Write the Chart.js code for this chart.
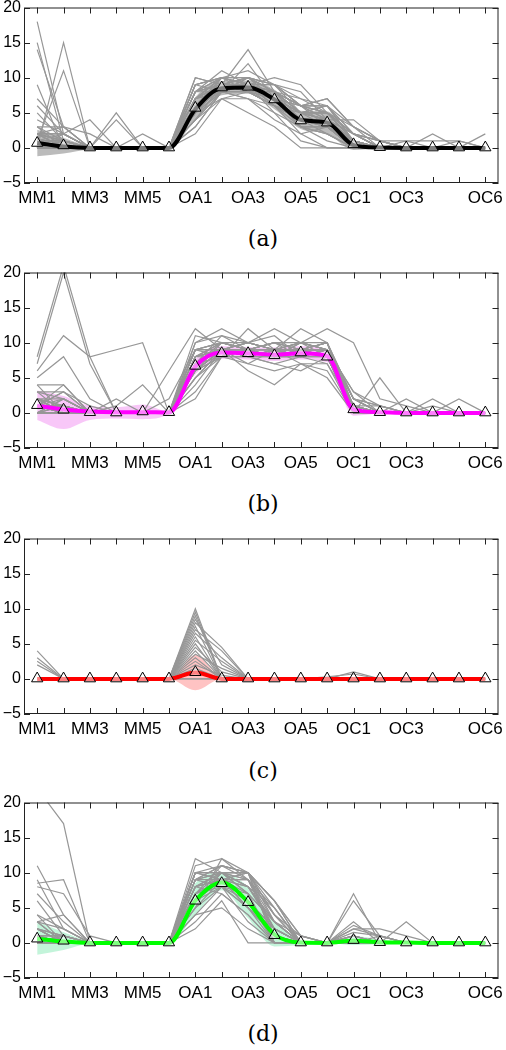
<!DOCTYPE html>
<html>
<head>
<meta charset="utf-8">
<script src="https://cdn.jsdelivr.net/npm/chart.js@4.4.1/dist/chart.umd.min.js"></script>
<style>
  body { margin: 0; background: #fff; }
  .panel { position: absolute; left: 0; }
  .cap { position: absolute; left: 0; width: 526px; text-align: center; font: 22px 'DejaVu Serif'; line-height: 26px; color: #000; }
</style>
</head>
<body>
<div class="panel" style="top:0"><canvas id="chart-a" width="506" height="213"></canvas></div>
<div class="cap" style="top:226px">(a)</div>
<div class="panel" style="top:265px"><canvas id="chart-b" width="506" height="213"></canvas></div>
<div class="cap" style="top:491px">(b)</div>
<div class="panel" style="top:531px"><canvas id="chart-c" width="506" height="213"></canvas></div>
<div class="cap" style="top:758px">(c)</div>
<div class="panel" style="top:795px"><canvas id="chart-d" width="506" height="213"></canvas></div>
<div class="cap" style="top:1021px">(d)</div>

<script>
// categories and tick labels
const categories = ['MM1', 'MM2', 'MM3', 'MM4', 'MM5', 'MM6',
                    'OA1', 'OA2', 'OA3', 'OA4', 'OA5', 'OA6',
                    'OC1', 'OC2', 'OC3', 'OC4', 'OC5', 'OC6'];
const shownLabels = ['MM1', 'MM3', 'MM5', 'OA1', 'OA3', 'OA5', 'OC1', 'OC3', 'OC6'];
const yTicks = [-5, 0, 5, 10, 15, 20];

// (a)
const meanA = [0.7, 0.2, 0, 0, 0, 0, 5.5, 8.5, 8.6, 6.9, 4.0, 3.6, 0.4, 0.05, 0, 0, 0, 0];
const markA = [0.7, 0.35, 0.05, 0.05, 0.05, 0.05, 5.7, 8.6, 8.7, 6.9, 3.9, 3.6, 0.5, 0.1, 0.05, 0.05, 0.05, 0.05];
const lowA  = [-1.2, -0.8, -0.2, 0, 0, 0, 4.0, 7.5, 7.7, 5.5, 2.7, 2.0, -0.3, -0.1, 0, 0, 0, 0];
const highA = [2.6, 1.4, 0.3, 0.2, 0.1, 0, 7.2, 9.5, 9.6, 8.3, 5.3, 5.2, 1.1, 0.3, 0.1, 0.1, 0.1, 0.1];
const tracesA = [
    [18, 2, 0, 0, 0, 0, 6, 9, 9, 7, 4, 4, 1, 0, 0, 0, 0, 0],
    [15, 1, 0, 0, 0, 0, 8, 10, 9, 8, 5, 3, 0, 0, 0, 0, 0, 0],
    [14, 3, 0, 0, 0, 0, 5, 8, 10, 7, 3, 2, 0, 0, 0, 0, 0, 0],
    [9, 0, 0, 0, 0, 0, 7, 9, 8, 6, 4, 3, 0, 0, 0, 0, 0, 0],
    [0, 15, 0, 0, 0, 0, 4, 8, 9, 7, 5, 4, 1, 0, 0, 0, 0, 0],
    [1, 11, 0, 0, 0, 0, 6, 9, 14, 8, 6, 5, 2, 0, 0, 0, 0, 0],
    [7, 3, 0, 0, 0, 0, 9, 10, 8, 6, 4, 4, 1, 0, 0, 0, 0, 0],
    [6, 2, 4, 0, 0, 0, 8, 11, 9, 7, 5, 4, 0, 0, 0, 0, 0, 0],
    [5, 1, 0, 5, 0, 0, 10, 9, 10, 9, 6, 7, 3, 1, 0, 0, 0, 0],
    [4, 2, 0, 4, 0, 0, 7, 8, 12, 7, 4, 3, 1, 0, 0, 0, 0, 0],
    [3, 3, 2, 0, 2, 0, 5, 7, 5, 3, 0, 0, 0, 0, 0, 0, 0, 0],
    [2, 2, 0, 0, 0, 0, 3, 8, 9, 7, 5, 5, 2, 1, 1, 1, 1, 0],
    [1, 0, 0, 0, 0, 0, 2, 7, 7, 6, 4, 4, 4, 1, 0, 0, 0, 0],
    [3, 0, 0, 0, 0, 0, 6, 9, 9, 10, 9, 5, 3, 1, 0, 0, 0, 0],
    [2, 1, 0, 0, 0, 0, 4, 9, 10, 8, 6, 7, 3, 0, 0, 0, 0, 0],
    [1, 1, 0, 0, 0, 0, 5, 8, 8, 6, 3, 3, 1, 0, 0, 0, 0, 0],
    [0, 2, 0, 0, 0, 0, 6, 9, 9, 5, 1, 0, 0, 0, 0, 0, 0, 0],
    [2, 0, 0, 0, 0, 0, 7, 10, 9, 7, 4, 2, 0, 0, 0, 0, 0, 0],
    [1, 0, 0, 0, 0, 0, 8, 10, 10, 9, 7, 6, 2, 0, 0, 0, 0, 0],
    [0, 0, 0, 0, 0, 0, 4, 7, 8, 8, 5, 4, 1, 0, 0, 2, 0, 0],
    [1, 1, 0, 0, 0, 0, 9, 8, 7, 4, 2, 3, 0, 0, 0, 0, 0, 2],
    [0, 0, 0, 0, 0, 0, 5, 9, 9, 7, 3, 1, 0, 0, 0, 0, 0, 0],
    [2, 1, 0, 0, 0, 0, 6, 8, 9, 8, 6, 4, 1, 0, 1, 0, 1, 0],
    [1, 0, 0, 0, 0, 0, 7, 9, 10, 9, 5, 5, 1, 0, 0, 0, 0, 0],
    [0, 1, 0, 0, 0, 0, 3, 8, 8, 6, 4, 3, 0, 0, 0, 0, 0, 0],
    [1, 0, 0, 0, 0, 0, 6, 9, 9, 6, 2, 0, 0, 0, 0, 0, 0, 0],
    [2, 3, 0, 0, 0, 0, 8, 9, 9, 7, 5, 6, 2, 1, 0, 0, 0, 0],
    [0, 0, 0, 0, 0, 0, 5, 8, 7, 5, 3, 2, 0, 0, 0, 0, 0, 0],
    [1, 0, 0, 0, 0, 0, 6, 9, 8, 7, 5, 4, 2, 0, 0, 0, 0, 0],
    [0, 0, 0, 0, 0, 0, 7, 8, 9, 7, 4, 3, 0, 0, 0, 0, 0, 0],
    [1, 0, 0, 0, 0, 0, 9, 10, 9, 8, 6, 5, 1, 0, 0, 0, 0, 0],
    [0, 0, 0, 0, 0, 0, 10, 9, 8, 7, 5, 5, 2, 1, 0, 0, 0, 0],
    [2, 1, 0, 0, 0, 0, 8, 8, 8, 8, 6, 6, 1, 0, 0, 0, 0, 0],
    [1, 2, 0, 0, 0, 0, 7, 9, 9, 9, 8, 4, 0, 0, 0, 0, 0, 0],
    [0, 0, 0, 0, 0, 0, 6, 10, 11, 9, 6, 3, 1, 0, 0, 0, 0, 0],
    [3, 1, 0, 0, 0, 0, 5, 9, 9, 8, 5, 5, 2, 0, 0, 0, 0, 0],
    [1, 0, 0, 0, 0, 0, 8, 9, 9, 7, 6, 6, 3, 1, 0, 0, 0, 0],
    [0, 0, 0, 0, 0, 0, 6, 8, 10, 8, 4, 4, 0, 0, 0, 0, 0, 0],
    [2, 0, 0, 0, 0, 0, 9, 10, 10, 8, 5, 4, 1, 0, 0, 0, 0, 0],
    [1, 1, 0, 0, 0, 0, 4, 8, 9, 7, 3, 3, 0, 0, 0, 0, 0, 0],
    [0, 0, 0, 0, 0, 0, 7, 9, 8, 6, 5, 6, 1, 0, 0, 0, 0, 0],
    [1, 0, 0, 0, 0, 0, 5, 10, 9, 7, 6, 5, 2, 0, 0, 0, 0, 0],
    [2, 2, 0, 0, 0, 0, 8, 9, 9, 9, 6, 4, 0, 0, 0, 0, 0, 0],
    [0, 1, 0, 0, 0, 0, 6, 9, 10, 8, 7, 5, 1, 0, 0, 0, 0, 0],
    [1, 0, 0, 0, 0, 0, 7, 10, 9, 6, 4, 4, 2, 0, 0, 0, 0, 0]
];

// (b)
const meanB = [1.0, 0.5, 0.2, 0.1, 0.1, 0.05, 6.6, 8.6, 8.5, 8.3, 8.5, 8.1, 0.5, 0.1, 0, 0, 0, 0];
const markB = [1.1, 0.45, 0.1, 0.05, 0.2, 0.1, 6.7, 8.5, 8.5, 8.2, 8.6, 8.0, 0.5, 0.1, 0.05, 0.05, 0.05, 0.05];
const lowB  = [-1.0, -2.3, -1.0, -0.8, -0.9, -0.1, 5.5, 7.7, 7.6, 7.4, 7.6, 7.2, -0.4, -0.1, 0, 0, 0, 0];
const highB = [3.2, 2.4, 1.0, 0.8, 1.2, 0.2, 7.6, 9.5, 9.4, 9.3, 9.5, 9.0, 1.3, 0.3, 0.1, 0.1, 0.1, 0.1];
const tracesB = [
    [8, 21, 8, 0, 0, 0, 7, 9, 9, 8, 9, 8, 0, 0, 0, 0, 0, 0],
    [7, 20, 7, 0, 0, 0, 6, 9, 8, 9, 8, 9, 1, 0, 0, 0, 0, 0],
    [6, 11, 8, 9, 10, 0, 9, 10, 9, 8, 9, 9, 2, 0, 0, 0, 0, 0],
    [5, 8, 2, 0, 0, 0, 8, 9, 10, 9, 10, 9, 3, 0, 0, 0, 0, 0],
    [4, 4, 0, 0, 0, 6, 12, 9, 8, 7, 8, 8, 0, 0, 0, 0, 0, 0],
    [3, 3, 0, 1, 4, 0, 11, 10, 9, 10, 9, 10, 0, 0, 0, 0, 0, 0],
    [2, 1, 0, 2, 0, 0, 10, 12, 10, 12, 10, 12, 10, 2, 1, 0, 0, 0],
    [1, 4, 0, 0, 0, 2, 9, 8, 12, 9, 12, 10, 2, 1, 0, 0, 0, 0],
    [1, 0, 0, 0, 0, 0, 5, 9, 6, 4, 7, 5, 0, 5, 0, 0, 0, 0],
    [0, 2, 0, 0, 0, 0, 2, 8, 9, 8, 9, 8, 1, 0, 2, 0, 0, 0],
    [1, 1, 0, 0, 0, 0, 7, 11, 10, 11, 8, 9, 0, 0, 0, 0, 2, 0],
    [2, 2, 0, 0, 0, 0, 6, 9, 9, 8, 9, 9, 1, 1, 0, 0, 0, 0],
    [3, 0, 0, 0, 0, 0, 7, 8, 8, 7, 6, 8, 0, 0, 0, 2, 0, 0],
    [0, 0, 0, 0, 0, 0, 8, 10, 9, 9, 9, 10, 1, 0, 0, 0, 0, 0],
    [1, 3, 1, 0, 0, 0, 6, 9, 9, 9, 10, 9, 0, 0, 0, 0, 0, 0],
    [2, 0, 0, 0, 0, 0, 5, 8, 7, 6, 7, 6, 0, 0, 0, 0, 0, 0],
    [0, 1, 0, 0, 0, 0, 7, 9, 10, 9, 9, 9, 2, 0, 0, 0, 0, 0],
    [1, 0, 0, 0, 0, 0, 9, 9, 9, 10, 10, 9, 3, 1, 0, 1, 0, 0],
    [0, 0, 0, 0, 0, 0, 6, 8, 8, 8, 8, 7, 0, 0, 0, 0, 0, 0],
    [2, 1, 0, 0, 0, 0, 8, 9, 9, 9, 9, 9, 1, 0, 0, 0, 0, 0],
    [1, 0, 0, 0, 0, 0, 4, 9, 8, 9, 8, 8, 0, 0, 0, 0, 0, 0],
    [0, 2, 0, 0, 0, 0, 7, 10, 9, 8, 9, 10, 0, 0, 0, 0, 0, 0],
    [1, 1, 0, 0, 0, 0, 8, 9, 10, 9, 9, 8, 1, 0, 0, 0, 0, 0],
    [0, 0, 0, 0, 0, 0, 9, 10, 9, 9, 10, 9, 0, 0, 0, 0, 0, 0],
    [3, 2, 0, 0, 0, 0, 6, 8, 9, 10, 8, 9, 2, 0, 0, 0, 0, 0],
    [1, 0, 0, 0, 0, 0, 7, 9, 8, 9, 9, 9, 0, 0, 0, 0, 0, 0],
    [0, 0, 0, 0, 0, 0, 3, 8, 9, 8, 10, 8, 0, 0, 0, 0, 0, 0],
    [2, 0, 0, 0, 0, 0, 10, 11, 9, 10, 9, 9, 1, 0, 0, 0, 0, 0],
    [1, 0, 0, 0, 0, 0, 8, 9, 9, 9, 9, 9, 0, 0, 0, 0, 0, 0],
    [0, 1, 0, 0, 0, 0, 7, 9, 9, 9, 9, 8, 1, 0, 0, 0, 0, 0],
    [2, 0, 0, 0, 0, 0, 9, 9, 10, 9, 10, 10, 2, 0, 0, 0, 0, 0],
    [1, 1, 0, 0, 0, 0, 6, 10, 9, 8, 8, 9, 0, 0, 0, 0, 0, 0],
    [0, 0, 0, 0, 0, 0, 8, 8, 9, 9, 9, 9, 1, 0, 0, 0, 0, 0],
    [1, 2, 0, 0, 0, 0, 9, 10, 9, 10, 9, 10, 0, 0, 0, 0, 0, 0],
    [0, 0, 0, 0, 0, 0, 5, 9, 8, 8, 9, 8, 0, 0, 0, 0, 0, 0],
    [2, 1, 0, 0, 0, 0, 7, 9, 9, 8, 10, 9, 1, 0, 0, 0, 0, 0],
    [1, 0, 0, 0, 0, 0, 8, 10, 10, 9, 9, 9, 0, 0, 0, 0, 0, 0],
    [0, 0, 0, 0, 0, 0, 6, 9, 7, 9, 7, 7, 1, 0, 0, 0, 0, 0],
    [4, 0, 0, 0, 0, 0, 7, 8, 9, 8, 8, 9, 2, 1, 0, 0, 0, 0],
    [1, 3, 0, 0, 0, 0, 9, 9, 8, 9, 9, 10, 1, 0, 0, 0, 0, 0]
];

// (c)
const meanC = [0, 0, 0, 0, 0, 0, 0.9, 0, 0, 0, 0, 0, 0, 0, 0, 0, 0, 0];
const markC = [0.05, 0.05, 0.05, 0.05, 0.05, 0.05, 0.95, 0.05, 0.05, 0.05, 0.05, 0.05, 0.05, 0.05, 0.05, 0.05, 0.05, 0.05];
const lowC  = [0, 0, 0, 0, 0, 0, -1.6, 0, 0, 0, 0, 0, 0, 0, 0, 0, 0, 0];
const highC = [0.2, 0, 0, 0, 0, 0, 3.4, 0.2, 0, 0, 0, 0, 0, 0, 0, 0, 0, 0];
const tracesC = [
    [4, 0, 0, 0, 0, 0, 10, 0, 0, 0, 0, 0, 0, 0, 0, 0, 0, 0],
    [3, 0, 0, 0, 0, 0, 9, 0, 0, 0, 0, 0, 0, 0, 0, 0, 0, 0],
    [2.5, 0, 0, 0, 0, 0, 8, 4.5, 0, 0, 0, 0, 0, 0, 0, 0, 0, 0],
    [2, 0, 0, 0, 0, 0, 7, 4, 0, 0, 0, 0, 0, 0, 0, 0, 0, 0],
    [0, 0, 0, 0, 0, 0, 9.5, 0, 0, 0, 0, 0, 0, 0, 0, 0, 0, 0],
    [0, 0, 0, 0, 0, 0, 8.5, 2, 0, 0, 0, 0, 0, 0, 0, 0, 0, 0],
    [0, 0, 0, 0, 0, 0, 7.5, 0, 0, 0, 0, 0, 0, 0, 0, 0, 0, 0],
    [0, 0, 0, 0, 0, 0, 6.5, 3, 0, 0, 0, 0, 0, 0, 0, 0, 0, 0],
    [0, 0, 0, 0, 0, 0, 6, 0, 0, 0, 0, 0, 0, 0, 0, 0, 0, 0],
    [0, 0, 0, 0, 0, 0, 5.5, 2.5, 0, 0, 0, 0, 0, 0, 0, 0, 0, 0],
    [0, 0, 0, 0, 0, 0, 5, 0, 0, 0, 0, 0, 0, 0, 0, 0, 0, 0],
    [0, 0, 0, 0, 0, 0, 4.5, 1, 0, 0, 0, 0, 0, 0, 0, 0, 0, 0],
    [0, 0, 0, 0, 0, 0, 4, 0, 0, 0, 0, 0, 0, 0, 0, 0, 0, 0],
    [0, 0, 0, 0, 0, 0, 3.5, 1.5, 0, 0, 0, 0, 0, 0, 0, 0, 0, 0],
    [0, 0, 0, 0, 0, 0, 3, 0, 0, 0, 0, 0, 0, 0, 0, 0, 0, 0],
    [0, 0, 0, 0, 0, 0, 2.5, 0, 0, 0, 0, 0, 0, 0, 0, 0, 0, 0],
    [0, 0, 0, 0, 0, 0, 2, 0.5, 0, 0, 0, 0, 0, 0, 0, 0, 0, 0],
    [0, 0, 0, 0, 0, 0, 1.5, 0, 0, 0, 0, 0, 0, 0, 0, 0, 0, 0],
    [0, 0, 0, 0, 0, 0, 0, 0, 0, 0, 0, 0, 1, 0, 0, 0, 0, 0],
    [0, 0, 0, 0, 0, 0, 0, 0, 0, 0, 0, 0.3, 0.7, 0, 0, 0, 0, 0]
];

// (d)
const meanD = [0.6, 0.2, 0, 0, 0, 0, 6.0, 8.6, 5.8, 1.2, 0.05, 0, 0.3, 0.1, 0.05, 0, 0, 0];
const markD = [0.6, 0.3, 0.05, 0.05, 0.05, 0.05, 6.0, 8.5, 5.8, 1.1, 0.05, 0.05, 0.4, 0.1, 0.05, 0.05, 0.05, 0.05];
const lowD  = [-1.7, -1.0, -0.1, 0, 0, 0, 4.0, 7.5, 3.5, -0.5, -0.3, 0, -0.3, -0.2, 0, 0, 0, 0];
const highD = [3.0, 1.5, 0.2, 0, 0, 0, 8.5, 10.0, 8.0, 3.0, 0.5, 0, 1.0, 0.5, 0.1, 0, 0, 0];
const tracesD = [
    [22, 17, 0, 0, 0, 0, 6, 9, 8, 3, 0, 0, 0, 0, 0, 0, 0, 0],
    [11, 4, 0, 0, 0, 0, 12, 10, 10, 6, 1, 0, 7, 0, 0, 0, 0, 0],
    [9, 2, 0, 0, 0, 0, 11, 12, 9, 5, 0, 0, 6, 1, 0, 0, 0, 0],
    [8.5, 9, 0, 0, 0, 0, 10, 11, 10, 4, 0, 0, 3, 0, 3, 0, 0, 0],
    [8, 7, 1, 0, 0, 0, 9, 11, 10, 3, 0, 0, 2.5, 1, 0, 0, 0, 0],
    [7, 3, 0, 0, 0, 0, 8, 10, 8, 2, 0, 0, 2, 2, 1, 0, 0, 0],
    [6, 1, 0, 0, 0, 0, 5, 12, 10, 1, 0, 0, 1.5, 1, 0, 0, 0, 0],
    [4, 0, 0, 0, 0, 0, 10, 10, 10, 0, 0, 0, 1, 0, 0, 0, 0, 0],
    [4, 2, 0, 0, 0, 0, 10, 10, 10, 6, 1, 0, 0.5, 0, 0, 0, 0, 0],
    [3, 4, 0, 0, 0, 0, 2, 6, 0, 0, 0, 0, 0, 0, 0, 0, 0, 0],
    [2, 1, 0, 0, 0, 0, 4, 5, 2, 0, 0, 0, 0, 1, 0, 0, 0, 0],
    [1, 0, 0, 0, 0, 0, 7, 9, 6, 1, 0, 0, 0, 0, 0, 0, 0, 0],
    [3, 0, 0, 0, 0, 0, 6, 8, 3, 0, 0, 0, 1, 0, 0, 0, 0, 0],
    [1, 1, 0, 0, 0, 0, 9, 8, 5, 2, 0, 0, 0, 0, 0, 0, 0, 0],
    [0, 0, 0, 0, 0, 0, 7, 9, 7, 0, 0, 0, 0, 0, 0, 0, 0, 0],
    [2, 0, 0, 0, 0, 0, 8, 7, 4, 0, 0, 0, 0, 0, 0, 0, 0, 0],
    [1, 0, 0, 0, 0, 0, 6, 9, 9, 3, 0, 0, 0, 0, 0, 0, 0, 0],
    [0, 1, 0, 0, 0, 0, 10, 9, 10, 4, 1, 0, 0, 0, 0, 0, 0, 0],
    [0, 0, 0, 0, 0, 0, 5, 9, 6, 2, 0, 0, 0, 0, 0, 0, 0, 0],
    [1, 0, 0, 0, 0, 0, 8, 10, 8, 3, 0, 0, 1, 0, 0, 0, 0, 0],
    [0, 0, 0, 0, 0, 0, 3, 7, 4, 0, 0, 0, 0, 0, 0, 0, 0, 0],
    [2, 1, 0, 0, 0, 0, 9, 9, 5, 1, 0, 0, 0, 0, 0, 0, 0, 0],
    [0, 0, 0, 0, 0, 0, 4, 8, 6, 2, 0, 0, 0, 0, 0, 0, 0, 0],
    [1, 0, 0, 0, 0, 0, 7, 11, 10, 5, 0, 0, 0, 0, 0, 0, 0, 0],
    [0, 0, 0, 0, 0, 0, 6, 10, 7, 0, 0, 0, 0, 0, 0, 0, 0, 0],
    [3, 0, 0, 0, 0, 0, 9, 10, 10, 6, 0, 0, 0, 0, 0, 0, 0, 0],
    [1, 0, 0, 0, 0, 0, 8, 9, 9, 4, 0, 0, 0, 0, 0, 0, 0, 0],
    [0, 0, 0, 0, 0, 0, 7, 10, 8, 2, 0, 0, 1, 0, 0, 0, 0, 0],
    [2, 0, 0, 0, 0, 0, 9, 10, 7, 3, 0, 0, 0, 0, 0, 0, 0, 0],
    [0, 1, 0, 0, 0, 0, 5, 8, 5, 1, 0, 0, 0, 0, 0, 0, 0, 0],
    [1, 0, 0, 0, 0, 0, 6, 10, 9, 2, 0, 0, 2, 1, 0, 0, 0, 0],
    [0, 0, 0, 0, 0, 0, 8, 9, 6, 0, 0, 0, 0, 0, 0, 0, 0, 0],
    [3, 2, 0, 0, 0, 0, 10, 9, 8, 5, 0, 0, 0, 0, 0, 0, 0, 0],
    [0, 0, 0, 0, 0, 0, 7, 8, 7, 3, 1, 0, 0, 0, 0, 0, 0, 0],
    [1, 1, 0, 0, 0, 0, 9, 11, 9, 4, 0, 0, 1, 0, 0, 0, 0, 0],
    [0, 0, 0, 0, 0, 0, 6, 9, 10, 6, 0, 0, 0, 0, 0, 0, 0, 0],
    [2, 0, 0, 0, 0, 0, 10, 10, 9, 1, 0, 0, 0, 0, 0, 0, 0, 0],
    [0, 0, 0, 0, 0, 0, 8, 9, 5, 0, 0, 0, 0, 0, 0, 0, 0, 0]
];

// box with inward tick marks, matlab style
const boxTicks = {
    id: 'boxTicks',
    afterDatasetsDraw(chart) {
        const { ctx, chartArea: a, scales: { x, y } } = chart;
        const len = 6;
        ctx.save();
        ctx.strokeStyle = '#222';
        ctx.lineWidth = 1;
        ctx.strokeRect(a.left + 0.5, a.top + 0.5, a.width - 1, a.height - 1);
        ctx.beginPath();
        categories.forEach((c, i) => {
            const px = Math.round(x.getPixelForValue(i)) + 0.5;
            ctx.moveTo(px, a.bottom);
            ctx.lineTo(px, a.bottom - len);
            ctx.moveTo(px, a.top);
            ctx.lineTo(px, a.top + len);
        });
        yTicks.forEach(v => {
            const py = Math.round(y.getPixelForValue(v)) + 0.5;
            ctx.moveTo(a.left, py);
            ctx.lineTo(a.left + len, py);
            ctx.moveTo(a.right, py);
            ctx.lineTo(a.right - len, py);
        });
        ctx.stroke();
        ctx.restore();
    }
};

function makePanel(id, traces, mean, marks, low, high, lineColor, bandColor) {
    const datasets = [
        {
            data: marks, showLine: false, order: 0,
            pointStyle: 'triangle', pointRadius: 6.5,
            pointBorderColor: '#000', pointBorderWidth: 1,
            pointBackgroundColor: 'rgba(255,255,255,0.5)'
        },
        {
            data: mean, order: 1, borderColor: lineColor, borderWidth: 4,
            pointRadius: 0, cubicInterpolationMode: 'monotone'
        }
    ];
    traces.forEach(t => {
        datasets.push({ data: t, order: 2, borderColor: '#979797', borderWidth: 1.2, pointRadius: 0 });
    });
    datasets.push({
        data: high, order: 3, borderColor: 'rgba(0,0,0,0)', borderWidth: 0, pointRadius: 0,
        cubicInterpolationMode: 'monotone', fill: '+1', backgroundColor: bandColor
    });
    datasets.push({
        data: low, order: 3, borderColor: 'rgba(0,0,0,0)', borderWidth: 0, pointRadius: 0,
        cubicInterpolationMode: 'monotone', fill: false
    });

    new Chart(document.getElementById(id), {
        type: 'line',
        data: { labels: categories, datasets: datasets },
        options: {
            responsive: false,
            animation: false,
            layout: { padding: { top: 7, right: 3, left: 0, bottom: 0 } },
            plugins: { legend: { display: false }, tooltip: { enabled: false } },
            scales: {
                x: {
                    offset: true,
                    grid: { display: false, drawTicks: false },
                    border: { display: false },
                    ticks: {
                        autoSkip: false, maxRotation: 0, padding: 5, color: '#000',
                        font: { family: 'Liberation Sans', size: 17 },
                        callback: (v, i) => shownLabels.includes(categories[i]) ? categories[i] : ''
                    },
                    afterFit: s => { s.height = 30; s.paddingLeft = 0; s.paddingRight = 0; }
                },
                y: {
                    min: -5, max: 20,
                    grid: { display: false, drawTicks: false },
                    border: { display: false },
                    ticks: {
                        stepSize: 5, padding: 3, color: '#000',
                        font: { family: 'Liberation Sans', size: 16 },
                        callback: v => v < 0 ? '\u2212' + Math.abs(v) : String(v)
                    },
                    afterFit: s => { s.width = 24; s.paddingTop = 0; s.paddingBottom = 0; }
                }
            }
        },
        plugins: [boxTicks]
    });
}

makePanel('chart-a', tracesA, meanA, markA, lowA, highA, '#000000', 'rgba(175,175,175,0.85)');
makePanel('chart-b', tracesB, meanB, markB, lowB, highB, '#ff00ff', 'rgba(245,180,245,0.75)');
makePanel('chart-c', tracesC, meanC, markC, lowC, highC, '#ff0000', 'rgba(255,175,175,0.75)');
makePanel('chart-d', tracesD, meanD, markD, lowD, highD, '#00ff00', 'rgba(175,240,205,0.75)');
</script>
</body>
</html>
